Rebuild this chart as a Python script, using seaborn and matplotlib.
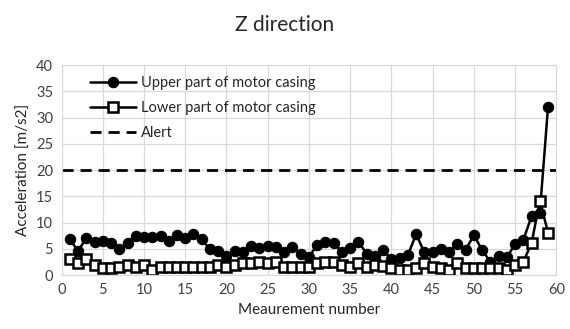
import numpy as np
import pandas as pd
import matplotlib
matplotlib.use("Agg")
import matplotlib.pyplot as plt
import seaborn as sns

measurement = list(range(1, 60))
upper = [6.8, 4.6, 7.0, 6.3, 6.5, 6.2, 5.0, 6.2, 7.4, 7.2,
         7.2, 7.4, 6.5, 7.6, 7.0, 7.9, 6.8, 4.9, 4.6, 3.6,
         4.6, 4.3, 5.6, 5.1, 5.6, 5.4, 4.3, 5.4, 4.0, 3.4,
         5.8, 6.3, 6.2, 4.4, 5.2, 6.3, 4.1, 3.6, 4.7, 3.0,
         3.2, 3.8, 7.8, 4.3, 4.4, 4.9, 4.4, 6.0, 4.8, 7.6,
         4.8, 2.5, 3.6, 3.4, 5.9, 6.7, 11.2, 11.9, 32.1]
lower = [3.0, 2.3, 3.0, 1.9, 1.3, 1.3, 1.5, 1.9, 1.6, 1.9,
         1.0, 1.5, 1.5, 1.6, 1.6, 1.6, 1.5, 1.6, 1.9, 1.5,
         1.9, 2.2, 2.3, 2.5, 2.3, 2.5, 1.5, 1.6, 1.6, 1.5,
         2.3, 2.4, 2.4, 2.0, 1.5, 2.2, 1.5, 2.0, 1.8, 1.3,
         1.0, 1.0, 1.3, 2.3, 1.6, 1.3, 1.0, 2.3, 1.3, 1.3,
         1.3, 1.3, 1.3, 1.0, 2.0, 2.5, 6.1, 14.1, 8.1]
alert = 20

df = pd.DataFrame({"n": measurement, "upper": upper, "lower": lower})

sns.set_style("white")
plt.rcParams["font.family"] = ["Lato", "DejaVu Sans"]

fig = plt.figure(figsize=(5.7, 3.29), dpi=100)
ax = fig.add_axes([0.108, 0.164, 0.868, 0.638])

sns.lineplot(data=df, x="n", y="upper", ax=ax, color="black", lw=1.8,
             marker="o", markersize=7.5, markeredgecolor="black",
             markerfacecolor="black", label="Upper part of motor casing")
sns.lineplot(data=df, x="n", y="lower", ax=ax, color="black", lw=1.8,
             marker="s", markersize=6.5, markeredgecolor="black",
             markeredgewidth=1.8, markerfacecolor="white",
             label="Lower part of motor casing")
ax.axhline(alert, color="black", lw=2, ls=(0, (4, 2.5)), label="Alert")

ax.set_xlim(0, 60)
ax.set_ylim(0, 40)
ax.set_xticks(np.arange(0, 61, 5))
ax.set_yticks(np.arange(0, 41, 5))
ax.grid(True, color="#d9d9d9", lw=0.9)
for s in ax.spines.values():
    s.set_color("#d9d9d9")
ax.tick_params(length=0, labelsize=10.5, colors="#404040", pad=6)
ax.set_xlabel("Meaurement number", fontsize=11, color="#262626")
ax.set_ylabel("Acceleration [m/s2]", fontsize=11, color="#262626")
fig.suptitle("Z direction", fontsize=15, color="#262626", y=0.955)

ax.legend(loc="upper left", frameon=False, fontsize=10.5, handlelength=3.2,
          labelspacing=0.75, bbox_to_anchor=(0.03, 1.01), handletextpad=0.3)

fig.savefig("out.png", dpi=100)
